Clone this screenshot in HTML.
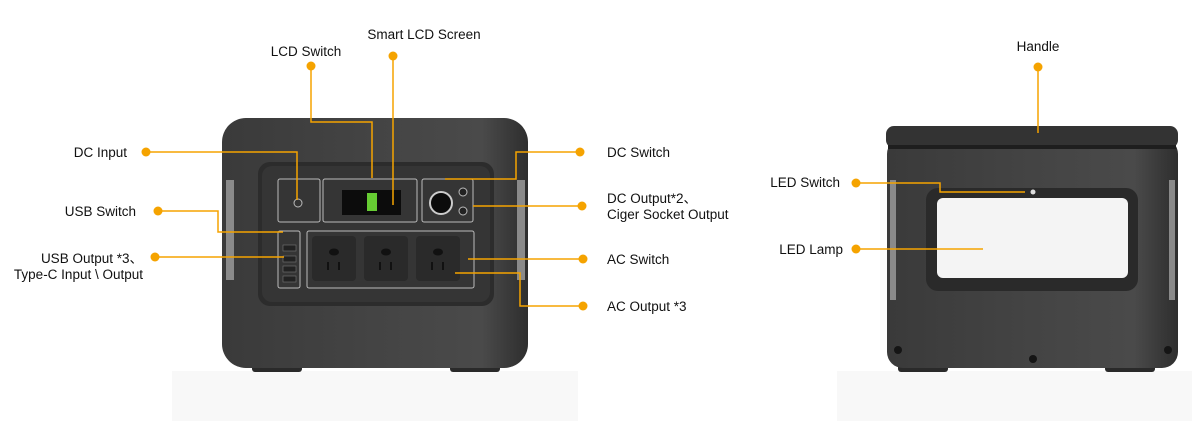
<!DOCTYPE html>
<html><head><meta charset="utf-8"><style>
html,body{margin:0;padding:0;background:#fff;}
svg{display:block;}
text{font-family:"Liberation Sans",Arial,sans-serif;font-size:13.5px;fill:#111;}
</style></head><body>
<svg width="1192" height="424" viewBox="0 0 1192 424" xmlns="http://www.w3.org/2000/svg">
<defs>
<linearGradient id="bd" x1="0" x2="1"><stop offset="0" stop-color="#3a3a3a"/><stop offset="0.5" stop-color="#444"/><stop offset="0.85" stop-color="#4a4a4a"/><stop offset="1" stop-color="#2e2e2e"/></linearGradient>
</defs>
<!-- bases -->
<rect x="172" y="371" width="406" height="50" fill="#f8f8f8"/>
<rect x="837" y="371" width="355" height="50" fill="#f8f8f8"/>

<!-- LEFT DEVICE -->
<rect x="252" y="362" width="50" height="10" rx="3" fill="#2a2a2a"/>
<rect x="450" y="362" width="50" height="10" rx="3" fill="#2a2a2a"/>
<rect x="222" y="118" width="306" height="250" rx="24" fill="url(#bd)"/>
<rect x="226" y="180" width="8" height="100" fill="#8a8a8a"/>
<rect x="517" y="180" width="8" height="100" fill="#8a8a8a"/>
<rect x="258" y="162" width="236" height="144" rx="12" fill="#2c2c2c"/>
<rect x="262" y="166" width="228" height="136" rx="10" fill="#353535"/>
<g fill="none" stroke="#bbb" stroke-width="1">
<rect x="278" y="179" width="42" height="43" rx="2"/>
<rect x="323" y="179" width="94" height="43" rx="2"/>
<rect x="422" y="179" width="51" height="43" rx="2"/>
<rect x="278" y="231" width="22" height="57" rx="2"/>
<rect x="307" y="231" width="167" height="57" rx="2"/>
</g>
<circle cx="298" cy="203" r="4" fill="#333" stroke="#bbb"/>
<rect x="342" y="190" width="59" height="25" fill="#0c0c0c"/>
<rect x="367" y="193" width="10" height="18" fill="#6c3"/>
<circle cx="441" cy="203" r="11" fill="#0c0c0c" stroke="#ccc" stroke-width="2"/>
<circle cx="463" cy="192" r="4" fill="#222" stroke="#bbb"/>
<circle cx="463" cy="211" r="4" fill="#222" stroke="#bbb"/>
<g fill="#2a2a2a"><rect x="312" y="236" width="44" height="45" rx="4"/><rect x="364" y="236" width="44" height="45" rx="4"/><rect x="416" y="236" width="44" height="45" rx="4"/></g>
<g fill="#111"><ellipse cx="334" cy="252" rx="5" ry="3.5"/><ellipse cx="386" cy="252" rx="5" ry="3.5"/><ellipse cx="438" cy="252" rx="5" ry="3.5"/>
<rect x="327" y="262" width="2" height="8"/><rect x="338" y="262" width="2" height="8"/>
<rect x="379" y="262" width="2" height="8"/><rect x="390" y="262" width="2" height="8"/>
<rect x="431" y="262" width="2" height="8"/><rect x="442" y="262" width="2" height="8"/></g>
<g fill="#222" stroke="#777" stroke-width="0.6"><rect x="283" y="245" width="13" height="6"/><rect x="283" y="256" width="13" height="6"/><rect x="283" y="266" width="13" height="6"/><rect x="283" y="276" width="13" height="6"/></g>

<!-- RIGHT DEVICE -->
<rect x="898" y="362" width="50" height="10" rx="3" fill="#2a2a2a"/>
<rect x="1105" y="362" width="50" height="10" rx="3" fill="#2a2a2a"/>
<rect x="887" y="138" width="291" height="230" rx="16" fill="url(#bd)"/>
<rect x="890" y="180" width="6" height="120" fill="#8a8a8a"/>
<rect x="1169" y="180" width="6" height="120" fill="#8a8a8a"/>
<rect x="886" y="126" width="292" height="22" rx="8" fill="#333"/>
<rect x="888" y="145" width="288" height="4" fill="#1e1e1e"/>
<rect x="926" y="188" width="212" height="103" rx="12" fill="#2a2a2a"/>
<rect x="937" y="198" width="191" height="80" rx="6" fill="#f4f4f4"/>
<circle cx="1033" cy="192" r="2.5" fill="#ddd"/>
<g fill="#151515"><circle cx="898" cy="350" r="4"/><circle cx="1033" cy="359" r="4"/><circle cx="1168" cy="350" r="4"/></g>

<!-- CALLOUT LINES -->
<g fill="none" stroke="#f5a300" stroke-width="1.5">
<path d="M393 56V205"/>
<path d="M311 66V122H372V178"/>
<path d="M146 152H297V200"/>
<path d="M158 211H218V232H283"/>
<path d="M155 257H284"/>
<path d="M580 152H516V179H445"/>
<path d="M582 206H473"/>
<path d="M583 259H468"/>
<path d="M583 306H520V273H455"/>
<path d="M1038 67V133"/>
<path d="M856 183H940V192H1025"/>
<path d="M856 249H983"/>
</g>
<g fill="#f5a300">
<circle cx="393" cy="56" r="4.5"/><circle cx="311" cy="66" r="4.5"/><circle cx="146" cy="152" r="4.5"/>
<circle cx="158" cy="211" r="4.5"/><circle cx="155" cy="257" r="4.5"/><circle cx="580" cy="152" r="4.5"/>
<circle cx="582" cy="206" r="4.5"/><circle cx="583" cy="259" r="4.5"/><circle cx="583" cy="306" r="4.5"/>
<circle cx="1038" cy="67" r="4.5"/><circle cx="856" cy="183" r="4.5"/><circle cx="856" cy="249" r="4.5"/>
</g>

<!-- LABELS -->
<text x="424" y="39" text-anchor="middle">Smart LCD Screen</text>
<text x="306" y="56" text-anchor="middle">LCD Switch</text>
<text x="127" y="157" text-anchor="end">DC Input</text>
<text x="136" y="216" text-anchor="end">USB Switch</text>
<text x="143" y="263" text-anchor="end">USB Output *3、</text>
<text x="143" y="279" text-anchor="end">Type-C Input \ Output</text>
<text x="607" y="157">DC Switch</text>
<text x="607" y="203">DC Output*2、</text>
<text x="607" y="219">Ciger Socket Output</text>
<text x="607" y="264">AC Switch</text>
<text x="607" y="311">AC Output *3</text>
<text x="1038" y="51" text-anchor="middle">Handle</text>
<text x="840" y="187" text-anchor="end">LED Switch</text>
<text x="843" y="254" text-anchor="end">LED Lamp</text>
</svg>
</body></html>
